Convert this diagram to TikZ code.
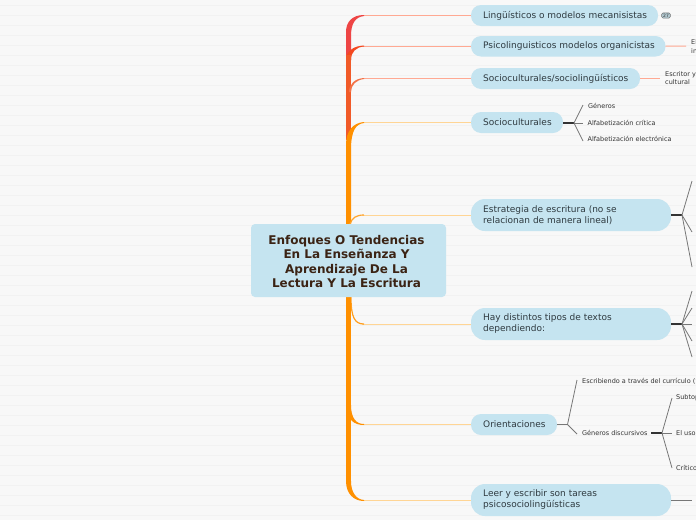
\documentclass[tikz,border=0pt]{standalone}
\usepackage{fontspec}
\setmainfont{DejaVu Sans}
\definecolor{bgc}{HTML}{F8F8F8}
\definecolor{linec}{HTML}{F2F2F2}
\definecolor{nodec}{HTML}{C5E4F0}
\definecolor{txtc}{HTML}{2F3A40}
\definecolor{rootc}{HTML}{3B2314}
\definecolor{redc}{HTML}{EE4545}
\definecolor{redoc}{HTML}{F15A28}
\definecolor{orac}{HTML}{FF9000}
\definecolor{salm}{HTML}{FFA993}
\definecolor{pale}{HTML}{FFD595}
\definecolor{grayc}{HTML}{777777}
\definecolor{darkc}{HTML}{333333}
\tikzset{
 x=1pt,y=-1pt,
 rootn/.style={inner sep=0pt,text=rootc,align=center,font=\fontsize{12}{14.4}\selectfont\bfseries},
 leaf/.style={anchor=west,inner sep=0pt,text=darkc,font=\fontsize{6.5}{8.2}\selectfont,align=left},
 thinb/.style={line width=1pt},
 fan/.style={grayc,line width=.8pt},
 stub/.style={darkc,line width=1.2pt},
}
\newcommand{\topicbox}[7]{% name, x0, x1, y0, y1, radius, text
 \path[fill=nodec,rounded corners=#6pt] (#2,#4) rectangle (#3,#5);
 \node[inner sep=0pt,anchor=west,text=txtc,font=\fontsize{9}{11}\selectfont,align=left] (#1) at (#2+12,{(#4+#5)/2}) {#7};
}
\begin{document}
\begin{tikzpicture}
\useasboundingbox (0,0) rectangle (696,520);
\clip (0,0) rectangle (696,520);
\fill[bgc] (0,0) rectangle (696,520);
\foreach \y in {5,15,...,515} \draw[linec,line width=.8pt] (0,\y) -- (696,\y);

% thin branches
\draw[salm,thinb] (362,15.5) -- (471,15.5);
\draw[salm,thinb] (362,46) -- (471,46);
\draw[salm,thinb] (362,78.5) -- (471,78.5);
\draw[pale,thinb] (362,122.5) -- (471,122.5);
\draw[pale,thinb] (362,215) -- (471,215);
\draw[pale,thinb] (362,324) -- (471,324);
\draw[pale,thinb] (362,424.5) -- (471,424.5);
\draw[pale,thinb] (362,500.5) -- (471,500.5);

% shoulders (tapered)
\path[fill=redc] (346,60) -- (346,32) .. controls (346,22) and (352,15) .. (364,15) -- (364,16) .. controls (355,17) and (351,24) .. (351,36) -- (351,60) -- cycle;
\path[fill=redoc!80!red] (346,60) -- (346,58) .. controls (348,50) and (354,46) .. (364,45.5) -- (364,46.5) .. controls (356,47) and (351,52) .. (351,60) -- cycle;
\path[fill=redoc] (346,55) rectangle (351,140);
\path[fill=redoc!85!white] (349,92) .. controls (349,84) and (355,78.5) .. (364,78) -- (364,79) .. controls (356,80) and (351,85) .. (351,92) -- cycle;
\path[fill=orac] (346,224) -- (346,145) .. controls (346,132) and (352,123) .. (364,122) -- (364,123) .. controls (356,124) and (351,130) .. (351,150) -- (351,224) -- cycle;
\draw[orac!70!pale,line width=1.2pt] (350,224) .. controls (352,218) and (356,215) .. (364,215);
\draw[orac!80!pale,line width=1.2pt] (351,297) .. controls (351,318) and (355,324) .. (364,324);
\path[fill=orac] (346,297) rectangle (351,482);
\path[fill=orac] (346,405) .. controls (347,420) and (354,425) .. (364,425) -- (364,424) .. controls (356,424) and (351,418) .. (351,405) -- cycle;
\path[fill=orac] (346,481) .. controls (346,494) and (354,501) .. (364,501) -- (364,500) .. controls (356,499.5) and (351,492) .. (351,481) -- cycle;

% root
\path[fill=nodec,rounded corners=4pt] (251,224) rectangle (446,297);
\node[rootn] (root) at (346.5,261.5) {Enfoques O Tendencias\\En La Enseñanza Y\\Aprendizaje De La\\Lectura Y La Escritura};

% topics
\topicbox{t1}{471}{658}{5}{26}{10}{Lingüísticos o modelos mecanisistas}
\topicbox{t2}{471}{665.5}{36}{56.5}{10}{Psicolinguisticos modelos organicistas}
\topicbox{t3}{471}{640}{68}{89}{10}{Socioculturales/sociolingüísticos}
\topicbox{t4}{471}{563}{112}{133}{10}{Socioculturales}
\topicbox{t5}{471}{671}{199}{231}{14}{Estrategia de escritura (no se\\relacionan de manera lineal)}
\topicbox{t6}{471}{671}{308}{340}{14}{Hay distintos tipos de textos\\dependiendo:}
\topicbox{t7}{471}{557}{414}{435}{10}{Orientaciones}
\topicbox{t8}{471}{671}{484}{516}{14}{Leer y escribir son tareas\\psicosociolingüísticas}

% badge
\node[fill=nodec!70!gray,draw=grayc,line width=.5pt,rounded corners=1.5pt,inner xsep=1.5pt,inner ysep=1pt,font=\fontsize{4.5}{5}\selectfont,text=darkc] (badge) at (666,15.5) {27};

% leaves t2,t3
\node[leaf] (l2) at (691,46.5) {El\\in};
\draw[salm,line width=1pt] (t2.east -| 665.5,46) -- (686,46);
\node[leaf] (l3) at (665,78) {Escritor y\\cultural};
\draw[salm,line width=1pt] (640,78.5) -- (660,78.5);

% t4 fan
\node[leaf] (g1) at (588,106) {Géneros};
\node[leaf] (g2) at (587.5,122.5) {Alfabetización crítica};
\node[leaf] (g3) at (587.5,139) {Alfabetización electrónica};
\coordinate (j4) at (574,123);
\draw[stub] (563,123) -- (j4);
\draw[fan] (j4) -- (583,105);
\draw[fan] (j4) -- (583,123);
\draw[fan] (j4) -- (583,141);

% t5 fan
\coordinate (j5) at (682,215);
\draw[stub] (671,215) -- (j5);
\foreach \y in {181,232,267} \draw[fan] (j5) -- (692,\y);

% t6 fan
\coordinate (j6) at (682,324);
\draw[stub] (671,324) -- (j6);
\foreach \y in {291,308,324,341,357} \draw[fan] (j6) -- (692,\y);

% t7 fan
\node[leaf] (o1) at (582,381.5) {Escribiendo a través del currículo ('};
\node[leaf] (o2) at (582,433) {Géneros discursivos};
\coordinate (j7) at (567.5,424.5);
\draw[grayc,line width=1.2pt] (557,424.5) -- (j7);
\draw[fan] (j7) -- (577,380);
\draw[fan] (j7) -- (577,434);

% o2 fan
\coordinate (j8) at (662,433);
\draw[stub] (651,433) -- (j8);
\draw[fan] (j8) -- (672,398);
\draw[fan] (j8) -- (672,433);
\draw[fan] (j8) -- (672,468);
\node[leaf] (s1) at (676,398) {Subtop};
\node[leaf] (s2) at (676,433) {El uso};
\node[leaf] (s3) at (676,467.5) {Crítico};

% t8 stub
\draw[grayc,line width=1pt] (671,500.5) -- (692,500.5);
\end{tikzpicture}
\end{document}
